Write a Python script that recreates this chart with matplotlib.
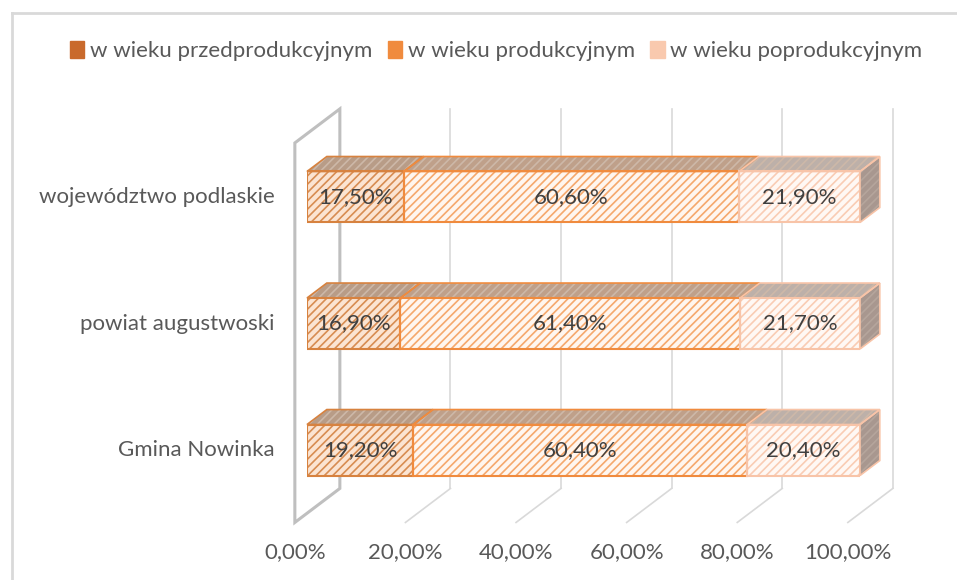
import matplotlib
matplotlib.use("Agg")
import matplotlib.pyplot as plt
from matplotlib.patches import Polygon, Patch
from matplotlib.lines import Line2D

plt.rcParams['font.family'] = ['Lato', 'DejaVu Sans']
plt.rcParams['hatch.linewidth'] = 1.2

# ---- data ----
categories = ["Gmina Nowinka", "powiat augustwoski", "województwo podlaskie"]
przedprod = [19.2, 16.9, 17.5]
prod = [60.4, 61.4, 60.6]
poprod = [20.4, 21.7, 21.9]
series_names = ["w wieku przedprodukcyjnym", "w wieku produkcyjnym", "w wieku poprodukcyjnym"]
xticks = [0, 20, 40, 60, 80, 100]

# ---- styles ----
fills = ['#FBE4D2', '#FFF6EF', '#FFF8F4']
hatch_cols = ['#D78C52', '#F5A86C', '#F9CCB4']
edge_cols = ['#D7823F', '#F08B3E', '#F8C4A8']
top_cols = ['#B89C87', '#BFA08A', '#BDB0A9']
side_col = '#A8978F'
legend_cols = ['#C96A2C', '#F08B3E', '#F9C9AE']
grid_col = '#D9D9D9'
wall_col = '#BFBFBF'

W, H = 957, 580
fig = plt.figure(figsize=(W / 100, H / 100), dpi=100)
ax = fig.add_axes([307 / W, (580 - 544.9) / H, 553 / W, 442.8 / H])
ax.set_xlim(0, 100)
ax.set_ylim(-0.75, 2.75)
ax.axis('off')

# pseudo-3D depth
T0, T1 = 0.27, 0.71
DX, DY = 8.14, 0.269
YFLOOR, YTOP = -0.5, 2.5
BH = 0.403


def P(x, y, t):
    return (x + (t - T0) * DX, y + (t - T0) * DY)


def seg(a, b, **kw):
    ax.add_line(Line2D([a[0], b[0]], [a[1], b[1]], clip_on=False, **kw))


# chart border (partial, as in the reference)
fig.add_artist(Line2D([12 / W, 1], [1 - 13 / H, 1 - 13 / H], color='#D9D9D9', lw=2))
fig.add_artist(Line2D([12 / W, 12 / W], [0, 1 - 13 / H], color='#D9D9D9', lw=2))

# gridlines
for v in xticks[1:]:
    seg(P(v, YFLOOR, 1), P(v, YTOP, 1), color=grid_col, lw=1.2, zorder=1)
    seg(P(v, YFLOOR, 0), P(v, YFLOOR, 1), color=grid_col, lw=1.2, zorder=1)

# side wall
wall = [P(0, YFLOOR, 0), P(0, YTOP, 0), P(0, YTOP, 1), P(0, YFLOOR, 1)]
ax.add_patch(Polygon(wall, closed=True, fill=False, edgecolor=wall_col, lw=2.2,
                     clip_on=False, zorder=1.5))

# bars
ys = list(range(len(categories)))
series = [przedprod, prod, poprod]
lefts = [0.0] * len(categories)
for si, vals in enumerate(series):
    ax.barh(ys, vals, left=lefts, height=BH, color=fills[si], hatch='////',
            edgecolor=hatch_cols[si], linewidth=0, zorder=3)
    ax.barh(ys, vals, left=lefts, height=BH, fill=False,
            edgecolor=edge_cols[si], linewidth=1.5, zorder=4)
    for y, l, v in zip(ys, lefts, vals):
        r = l + v
        top = [(l, y + BH / 2), (r, y + BH / 2), P(r, y + BH / 2, T1), P(l, y + BH / 2, T1)]
        ax.add_patch(Polygon(top, closed=True, facecolor=top_cols[si], hatch='////',
                             edgecolor='#CDB8A8', lw=0, clip_on=False, zorder=3))
        ax.add_patch(Polygon(top, closed=True, fill=False, edgecolor=edge_cols[si],
                             lw=1.2, clip_on=False, zorder=4))
        ax.text(l + v / 2, y, f"{v:.2f}%".replace('.', ','), ha='center', va='center',
                fontsize=16, color='#404040', zorder=6)
        if si == len(series) - 1:
            side = [(r, y - BH / 2), (r, y + BH / 2), P(r, y + BH / 2, T1), P(r, y - BH / 2, T1)]
            ax.add_patch(Polygon(side, closed=True, facecolor=side_col, hatch='////',
                                 edgecolor='#B5A59C', lw=0, clip_on=False, zorder=3))
            ax.add_patch(Polygon(side, closed=True, fill=False, edgecolor=edge_cols[si],
                                 lw=1.2, clip_on=False, zorder=4))
    lefts = [a + b for a, b in zip(lefts, vals)]

# category labels
for y, c in zip(ys, categories):
    ax.annotate(c, xy=(0, y), xytext=(-32, 0), textcoords='offset pixels',
                ha='right', va='center', fontsize=16, color='#595959')

# x tick labels
for v in xticks:
    ax.annotate(f"{v:.2f}%".replace('.', ','), xy=P(v, YFLOOR, 0), xytext=(0, -30),
                textcoords='offset pixels', ha='center', va='center',
                fontsize=16, color='#595959', annotation_clip=False)

# legend
handles = [Patch(facecolor=legend_cols[i], edgecolor=legend_cols[i], hatch='\\\\')
           for i in range(3)]
fig.legend(handles, series_names, loc='center', bbox_to_anchor=(496 / W, 1 - 51 / H),
           ncol=3, frameon=False, fontsize=16, labelcolor='#595959',
           handlelength=0.65, handleheight=0.8, handletextpad=0.25, columnspacing=0.7)

fig.savefig('out.png', dpi=100)
